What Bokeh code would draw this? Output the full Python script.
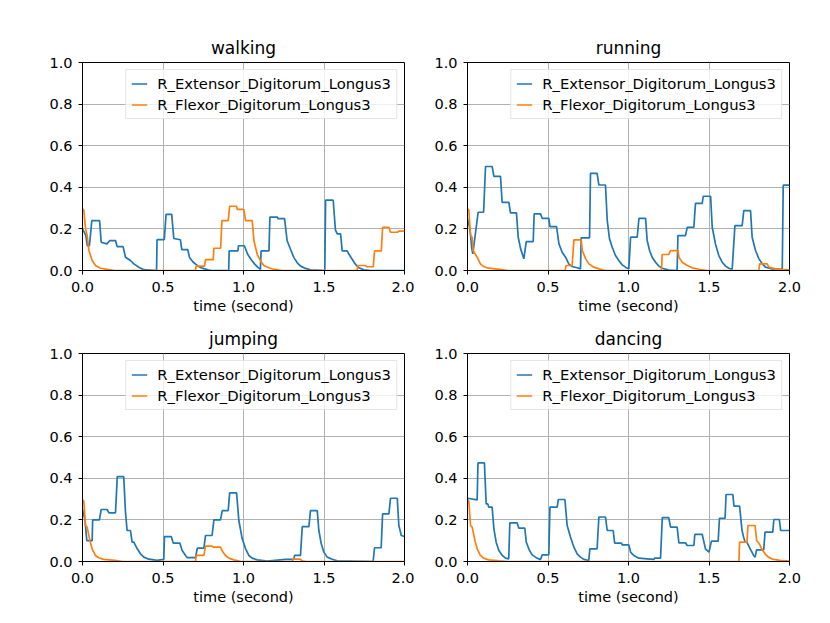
from bokeh.plotting import figure
from bokeh.layouts import column, row
from bokeh.models import Legend, LegendItem, FixedTicker, Range1d, PrintfTickFormatter
from bokeh.embed import file_html
from bokeh.resources import INLINE

LABEL_EXT = "R_Extensor_Digitorum_Longus3"
LABEL_FLX = "R_Flexor_Digitorum_Longus3"
X_TICKS = [0.0, 0.5, 1.0, 1.5, 2.0]
Y_TICKS = [0.0, 0.2, 0.4, 0.6, 0.8, 1.0]

# ---- walking ----
walking_ext_t = [0.0, 0.02, 0.03, 0.043, 0.058, 0.106, 0.116, 0.152, 0.17, 0.205, 0.215, 0.252, 0.267, 0.298, 0.319, 0.35, 0.38, 0.46,
                 0.463, 0.508, 0.519, 0.554, 0.567, 0.608, 0.617, 0.654, 0.665, 0.685, 0.717, 0.748, 0.779, 0.80, 0.908,
                 0.911, 0.965, 0.969, 1.005, 1.026, 1.046, 1.067, 1.088, 1.105, 1.109, 1.158, 1.164, 1.21, 1.214, 1.255, 1.271, 1.292, 1.313, 1.334, 1.355, 1.385, 1.416, 1.505,
                 1.51, 1.557, 1.571, 1.582, 1.603, 1.613, 1.644, 1.655, 1.675, 1.696, 1.717, 1.747, 1.79, 2.0]
walking_ext_v = [0.20, 0.17, 0.12, 0.12, 0.24, 0.24, 0.136, 0.128, 0.144, 0.144, 0.115, 0.115, 0.064, 0.048, 0.032, 0.016, 0.004, 0.0,
                 0.148, 0.148, 0.27, 0.27, 0.154, 0.148, 0.10, 0.10, 0.062, 0.042, 0.021, 0.01, 0.003, 0.0, 0.0,
                 0.094, 0.094, 0.119, 0.119, 0.078, 0.054, 0.033, 0.016, 0.005, 0.094, 0.094, 0.257, 0.257, 0.249, 0.249, 0.143, 0.102, 0.062, 0.037, 0.021, 0.01, 0.003, 0.0,
                 0.338, 0.338, 0.195, 0.176, 0.176, 0.094, 0.094, 0.078, 0.054, 0.029, 0.013, 0.003, 0.0, 0.0]
walking_flx_t = [0.0, 0.008, 0.019, 0.029, 0.04, 0.06, 0.081, 0.112, 0.153, 0.2, 0.702,
                 0.706, 0.758, 0.764, 0.812, 0.816, 0.858, 0.866, 0.905, 0.914, 0.957, 0.961, 1.002, 1.013, 1.054, 1.065, 1.085, 1.106, 1.126, 1.158, 1.189, 1.24, 1.705,
                 1.711, 1.758, 1.764, 1.806, 1.814, 1.856, 1.864, 1.903, 1.913, 1.955, 1.965, 2.0]
walking_flx_v = [0.296, 0.29, 0.2, 0.168, 0.096, 0.048, 0.024, 0.011, 0.005, 0.0, 0.0,
                 0.021, 0.021, 0.052, 0.052, 0.107, 0.107, 0.24, 0.24, 0.309, 0.309, 0.294, 0.294, 0.24, 0.24, 0.143, 0.078, 0.046, 0.024, 0.013, 0.005, 0.0, 0.0,
                 0.024, 0.024, 0.018, 0.018, 0.094, 0.094, 0.208, 0.208, 0.184, 0.184, 0.189, 0.189]

# ---- running ----
running_ext_t = [0.0, 0.015, 0.027, 0.033, 0.066, 0.1, 0.112, 0.153, 0.164, 0.205, 0.215, 0.257, 0.267, 0.304, 0.315, 0.33, 0.35, 0.365, 0.408, 0.414, 0.453,
                 0.464, 0.505, 0.512, 0.553, 0.568, 0.588, 0.609, 0.629, 0.65, 0.681, 0.702, 0.706, 0.758, 0.764, 0.805, 0.816, 0.857, 0.868, 0.882, 0.899, 0.919, 0.94, 0.961, 0.981, 1.002,
                 1.013, 1.054, 1.065, 1.106, 1.116, 1.131, 1.147, 1.168, 1.189, 1.209, 1.25, 1.302, 1.307, 1.354, 1.365, 1.406, 1.416, 1.458, 1.464, 1.51,
                 1.52, 1.54, 1.561, 1.582, 1.603, 1.623, 1.644, 1.661, 1.706, 1.716, 1.758, 1.768, 1.789, 1.81, 1.831, 1.851, 1.892, 1.955, 1.961, 2.0]
running_ext_v = [0.25, 0.2, 0.104, 0.08, 0.28, 0.28, 0.5, 0.5, 0.453, 0.453, 0.328, 0.328, 0.277, 0.277, 0.16, 0.104, 0.056, 0.139, 0.139, 0.272, 0.272,
                 0.251, 0.251, 0.211, 0.211, 0.128, 0.088, 0.064, 0.032, 0.019, 0.013, 0.008, 0.157, 0.157, 0.467, 0.467, 0.411, 0.411, 0.24, 0.152, 0.112, 0.072, 0.048, 0.027, 0.016, 0.008,
                 0.16, 0.16, 0.251, 0.251, 0.144, 0.096, 0.064, 0.04, 0.021, 0.011, 0.002, 0.0, 0.168, 0.168, 0.208, 0.208, 0.323, 0.323, 0.357, 0.357,
                 0.208, 0.128, 0.072, 0.04, 0.021, 0.011, 0.006, 0.216, 0.216, 0.288, 0.288, 0.16, 0.096, 0.056, 0.032, 0.016, 0.008, 0.005, 0.41, 0.41]
running_flx_t = [0.0, 0.008, 0.019, 0.029, 0.035, 0.06, 0.08, 0.1, 0.13, 0.2, 0.25, 0.607,
                 0.611, 0.65, 0.661, 0.706, 0.713, 0.734, 0.754, 0.785, 0.816, 0.855, 1.205,
                 1.209, 1.25, 1.261, 1.307, 1.313, 1.334, 1.365, 1.396, 1.437, 1.49, 1.81,
                 1.814, 1.861, 1.872, 1.913, 1.955, 2.0]
running_flx_v = [0.296, 0.29, 0.168, 0.16, 0.096, 0.064, 0.032, 0.019, 0.011, 0.005, 0.0, 0.0,
                 0.024, 0.024, 0.147, 0.147, 0.096, 0.056, 0.032, 0.016, 0.008, 0.0, 0.0,
                 0.077, 0.077, 0.096, 0.096, 0.064, 0.04, 0.024, 0.013, 0.006, 0.0, 0.0,
                 0.032, 0.032, 0.016, 0.008, 0.005, 0.003]

# ---- jumping ----
jumping_ext_t = [0.0, 0.015, 0.027, 0.06, 0.063, 0.105, 0.116, 0.153, 0.164, 0.205, 0.216, 0.256, 0.267, 0.277, 0.298, 0.308, 0.319, 0.34, 0.36, 0.381, 0.412, 0.464, 0.505,
                 0.509, 0.551, 0.564, 0.605, 0.619, 0.64, 0.65, 0.702, 0.713, 0.754, 0.764, 0.805, 0.816, 0.857, 0.868, 0.905, 0.914, 0.957,
                 0.971, 0.992, 1.013, 1.033, 1.054, 1.085, 1.147, 1.261, 1.313, 1.317, 1.354, 1.365, 1.406, 1.416, 1.458, 1.468, 1.483, 1.499, 1.52, 1.551, 1.582, 1.805,
                 1.814, 1.855, 1.864, 1.903, 1.913, 1.955, 1.965, 1.98, 2.0]
jumping_ext_v = [0.25, 0.2, 0.1, 0.1, 0.2, 0.2, 0.25, 0.25, 0.234, 0.234, 0.408, 0.408, 0.237, 0.149, 0.149, 0.093, 0.093, 0.061, 0.037, 0.021, 0.011, 0.005, 0.01,
                 0.12, 0.12, 0.088, 0.088, 0.053, 0.029, 0.019, 0.019, 0.064, 0.064, 0.125, 0.125, 0.2, 0.2, 0.245, 0.245, 0.33, 0.33,
                 0.197, 0.109, 0.061, 0.029, 0.016, 0.008, 0.002, 0.01, 0.01, 0.029, 0.029, 0.168, 0.168, 0.245, 0.245, 0.149, 0.085, 0.045, 0.021, 0.011, 0.003, 0.0,
                 0.066, 0.066, 0.229, 0.229, 0.304, 0.304, 0.173, 0.125, 0.12]
jumping_flx_t = [0.0, 0.008, 0.019, 0.029, 0.046, 0.06, 0.08, 0.1, 0.13, 0.2, 0.25, 0.702,
                 0.706, 0.754, 0.764, 0.805, 0.812, 0.857, 0.868, 0.888, 0.909, 0.94, 0.985, 1.303,
                 1.307, 1.352, 1.365, 1.39, 2.0]
jumping_flx_v = [0.296, 0.29, 0.173, 0.165, 0.1, 0.061, 0.029, 0.018, 0.01, 0.005, 0.0, 0.0,
                 0.029, 0.029, 0.074, 0.074, 0.069, 0.069, 0.05, 0.029, 0.016, 0.008, 0.0, 0.0,
                 0.011, 0.011, 0.003, 0.0, 0.0]

# ---- dancing ----
dancing_ext_t = [0.0, 0.06, 0.065, 0.105, 0.116, 0.126, 0.132, 0.153, 0.164, 0.178, 0.195, 0.216, 0.236, 0.256, 0.263, 0.308, 0.319, 0.356, 0.365, 0.385, 0.402, 0.422, 0.453,
                 0.464, 0.505, 0.512, 0.557, 0.564, 0.605, 0.619, 0.64, 0.661, 0.681, 0.702, 0.723, 0.753, 0.76, 0.805, 0.816, 0.857, 0.868, 0.905, 0.914, 0.957, 0.961, 1.002,
                 1.013, 1.033, 1.064, 1.116, 1.158, 1.162, 1.199, 1.21, 1.25, 1.261, 1.302, 1.313, 1.354, 1.364, 1.406, 1.412, 1.458, 1.478, 1.5,
                 1.515, 1.557, 1.565, 1.6, 1.606, 1.648, 1.655, 1.69, 1.705, 1.715, 1.725, 1.735, 1.756, 1.777, 1.787, 1.795, 1.84, 1.848, 1.896, 1.903, 1.937, 1.945, 2.0]
dancing_ext_v = [0.304, 0.296, 0.474, 0.474, 0.277, 0.277, 0.261, 0.261, 0.157, 0.093, 0.053, 0.029, 0.016, 0.013, 0.186, 0.186, 0.16, 0.16, 0.093, 0.053, 0.032, 0.021, 0.008,
                 0.032, 0.032, 0.261, 0.261, 0.298, 0.298, 0.173, 0.117, 0.069, 0.037, 0.021, 0.01, 0.005, 0.061, 0.061, 0.214, 0.214, 0.149, 0.149, 0.088, 0.088, 0.08, 0.08,
                 0.045, 0.029, 0.016, 0.013, 0.01, 0.016, 0.016, 0.211, 0.211, 0.165, 0.165, 0.09, 0.09, 0.077, 0.077, 0.13, 0.13, 0.061, 0.045,
                 0.098, 0.098, 0.208, 0.208, 0.322, 0.322, 0.266, 0.266, 0.149, 0.117, 0.093, 0.093, 0.061, 0.029, 0.021, 0.056, 0.056, 0.141, 0.141, 0.202, 0.202, 0.149, 0.149]
dancing_flx_t = [0.0, 0.008, 0.019, 0.029, 0.046, 0.06, 0.08, 0.1, 0.13, 0.2, 0.25, 1.686,
                 1.69, 1.736, 1.742, 1.786, 1.796, 1.813, 1.827, 1.848, 1.869, 1.9, 1.94, 2.0]
dancing_flx_v = [0.3, 0.29, 0.173, 0.165, 0.101, 0.061, 0.029, 0.016, 0.008, 0.003, 0.0, 0.0,
                 0.093, 0.093, 0.173, 0.173, 0.101, 0.085, 0.061, 0.037, 0.021, 0.01, 0.005, 0.002]

FONT = "DejaVu Sans"
TXT = "14.5px"


def make(title, t1, v1, t2, v2, bl, br, bt, bb):
    p = figure(frame_width=322, frame_height=208,
               x_range=Range1d(0, 2), y_range=Range1d(0, 1),
               output_backend="svg", toolbar_location=None,
               min_border_left=bl, min_border_right=br,
               min_border_top=bt, min_border_bottom=bb,
               title=title)
    p.title.align = "center"
    p.title.text_font = FONT
    p.title.text_font_size = "17px"
    p.title.text_font_style = "normal"
    p.title.text_color = "black"
    p.background_fill_color = "white"
    p.border_fill_color = "white"
    p.outline_line_color = "black"
    p.outline_line_alpha = 1.0
    p.outline_line_width = 1

    p.xaxis.ticker = FixedTicker(ticks=X_TICKS)
    p.yaxis.ticker = FixedTicker(ticks=Y_TICKS)
    p.xaxis.formatter = PrintfTickFormatter(format="%.1f")
    p.yaxis.formatter = PrintfTickFormatter(format="%.1f")
    p.xaxis.axis_label = "time (second)"
    for ax in (p.xaxis, p.yaxis):
        ax.axis_line_color = "black"
        ax.major_tick_line_color = "black"
        ax.major_tick_out = 4
        ax.major_tick_in = 0
        ax.minor_tick_line_color = None
        ax.major_label_text_font = FONT
        ax.major_label_text_font_size = TXT
        ax.major_label_text_color = "black"
        ax.axis_label_text_font = FONT
        ax.axis_label_text_font_size = TXT
        ax.axis_label_text_font_style = "normal"
        ax.axis_label_text_color = "black"
    p.xaxis.major_label_standoff = 7
    p.yaxis.major_label_standoff = 6
    p.xaxis.axis_label_standoff = 3
    for g in (p.xgrid, p.ygrid):
        g.grid_line_color = "#b0b0b0"
        g.grid_line_width = 1

    r1 = p.line(t1, v1, line_color="#1f77b4", line_width=1.7)
    r2 = p.line(t2, v2, line_color="#ff7f0e", line_width=1.7)

    legend = Legend(items=[LegendItem(label=LABEL_EXT, renderers=[r1]),
                           LegendItem(label=LABEL_FLX, renderers=[r2])],
                    location="top_right")
    legend.margin = 7
    legend.padding = 5
    legend.spacing = 4
    legend.glyph_width = 16
    legend.glyph_height = 17
    legend.label_height = 17
    legend.label_standoff = 10
    legend.label_text_font = FONT
    legend.label_text_font_size = "14.8px"
    legend.label_text_color = "black"
    legend.border_line_color = "#cccccc"
    legend.border_line_width = 1
    legend.background_fill_alpha = 0.8
    p.add_layout(legend)
    return p


f1 = make("walking", walking_ext_t, walking_ext_v, walking_flx_t, walking_flx_v, 82, 10, 62, 50)
f2 = make("running", running_ext_t, running_ext_v, running_flx_t, running_flx_v, 53, 20, 62, 50)
f3 = make("jumping", jumping_ext_t, jumping_ext_v, jumping_flx_t, jumping_flx_v, 82, 10, 33, 50)
f4 = make("dancing", dancing_ext_t, dancing_ext_v, dancing_flx_t, dancing_flx_v, 53, 20, 33, 50)

layout = column(row(f1, f2), row(f3, f4))
open("out.html", "w").write(file_html(layout, INLINE))
